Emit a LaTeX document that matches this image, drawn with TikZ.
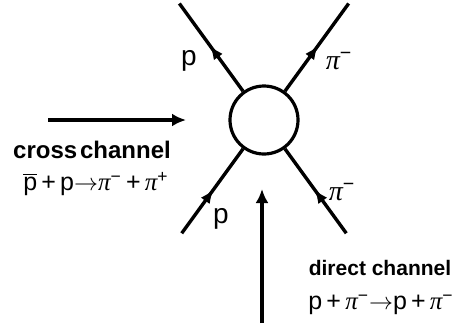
\documentclass[tikz,border=0pt]{standalone}
\usepackage{fontspec}
\setmainfont{Liberation Sans}
\newfontfamily\grkfont{Liberation Serif}
\newcommand{\pim}{{\grkfont\itshape π}\textsuperscript{−}}
\newcommand{\pip}{{\grkfont\itshape π}\textsuperscript{+}}
\usetikzlibrary{arrows.meta,decorations.markings,calc}
\tikzset{
  vtx/.style={circle,draw,line width=1.6pt,minimum size=34pt,inner sep=0pt},
  leg/.style={line width=1.7pt,postaction={decorate},
    decoration={markings,mark=at position .52 with {\arrow{Latex[length=7pt,width=5.5pt]}}}},
  flow/.style={-{Latex[length=7pt,width=6.5pt]},line width=1.7pt},
  lbl/.style={font=\fontsize{14}{16}\selectfont,inner sep=0pt},
  ttl/.style={font=\fontsize{#1}{14}\selectfont\bfseries,inner sep=0pt},
  eqn/.style={font=\fontsize{#1}{14}\selectfont,inner sep=0pt},
}
\begin{document}
\begin{tikzpicture}[x=0.5pt,y=0.5pt]
  \useasboundingbox (0,0) rectangle (453,323);
  \node[vtx] (v) at (264,203) {};

  % external lines
  \coordinate (ul) at ($(v.center)+(126:144)$);
  \coordinate (ur) at ($(v.center)+(54:144)$);
  \coordinate (ll) at ($(v.center)+(234:140)$);
  \coordinate (lr) at ($(v.center)+(-54:140)$);
  \draw[leg] (v.126) -- (ul);
  \draw[leg] (v.54) -- (ur);
  \draw[leg] (ll) -- (v.234);
  \draw[leg] (lr) -- (v.-54);

  \node[lbl] (pout)  at (189,262) {p};
  \node[lbl] (piout) at (339,262) {\pim};
  \node[lbl] (pin)   at (221,104) {p};
  \node[lbl] (piin)  at (342,131) {\pim};

  % channels
  \coordinate (cs) at (48,203);
  \coordinate (ce) at (186,203);
  \draw[flow] (cs) -- (ce);
  \node[ttl=12] (cross) at (92,173) {cross\hspace{0.12em}channel};
  \node[eqn=12.5] (crosseq) at (96,139)
    {$\overline{\mbox{p}}$\,+\,p$\rightarrow$\pim\,+\,\pip};

  \coordinate (ds) at (262,0);
  \coordinate (de) at (262,134);
  \draw[flow] (ds) -- (de);
  \node[ttl=10.5] (direct) at (380,55) {direct channel};
  \node[eqn=12.5] (directeq) at (381,18)
    {p\,+\,\pim$\rightarrow$p\,+\,\pim};
\end{tikzpicture}
\end{document}
